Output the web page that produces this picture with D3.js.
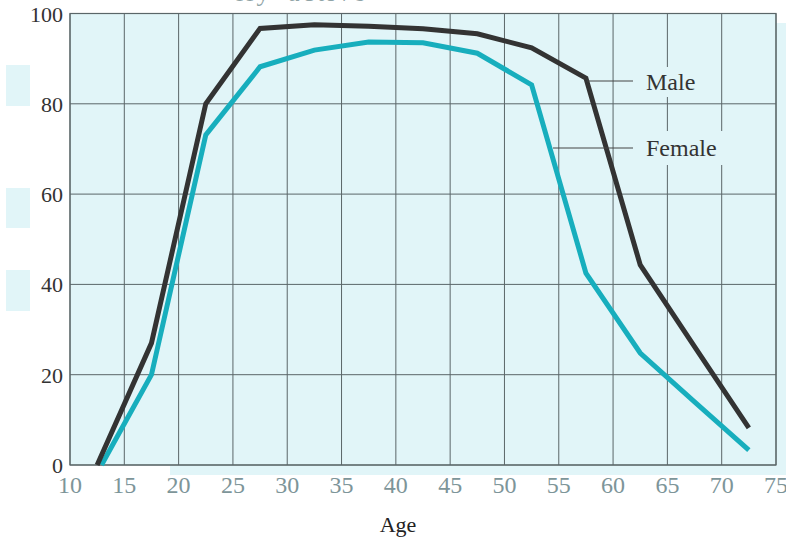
<!DOCTYPE html>
<html>
<head>
<meta charset="utf-8">
<script src="https://cdn.jsdelivr.net/npm/d3@7"></script>
<style>
  body { margin: 0; background: #fff; }
  svg { display: block; }
</style>
</head>
<body>
<svg id="chart" width="786" height="541"></svg>
<script>
// ---- data ----
const maleAges   = [12.5, 17.5, 22.5, 27.5, 32.5, 37.5, 42.5, 47.5, 52.5, 57.5, 62.5, 67.5, 72.5];
const maleValues = [0, 27, 80, 96.7, 97.5, 97.2, 96.6, 95.5, 92.4, 85.7, 44.3, 26.2, 8.2];
const femaleAges   = [12.9, 17.5, 22.5, 27.5, 32.5, 37.5, 42.5, 47.5, 52.5, 57.5, 62.5, 67.5, 72.5];
const femaleValues = [0, 20, 73.1, 88.2, 91.9, 93.7, 93.5, 91.2, 84.2, 42.5, 24.8, 14, 3.3];
const xTicks = [10, 15, 20, 25, 30, 35, 40, 45, 50, 55, 60, 65, 70, 75];
const yTicks = [0, 20, 40, 60, 80, 100];
const seriesNames = ["Male", "Female"];
const xTitle = "Age";
const titleFragment = "lly active";

// ---- layout ----
const FONT = "'Liberation Serif', 'Times New Roman', Times, 'DejaVu Serif', serif";
const svg = d3.select("#chart").attr("font-family", FONT);
const pL = 70, pR = 776, pT = 13.5, pB = 465;
const x = d3.scaleLinear().domain([10, 75]).range([pL, pR]);
const y = d3.scaleLinear().domain([0, 100]).range([pB, pT]);
const bg = "#e1f5f8";

// clipped title fragment at top
svg.append("text").attr("x", 236).attr("y", 0.5)
  .attr("font-size", 26).attr("letter-spacing", 3).attr("word-spacing", 6)
  .attr("fill", "#8fa3a6").text(titleFragment);

// left decorative rectangles
[[65, 106], [188, 228], [270, 311]].forEach(([a, b]) => {
  svg.append("rect").attr("x", 6).attr("y", a).attr("width", 24).attr("height", b - a).attr("fill", bg);
});

// background panels
svg.append("rect").attr("x", pL).attr("y", pT).attr("width", pR - pL).attr("height", pB - pT).attr("fill", bg);
svg.append("rect").attr("x", pR).attr("y", 23).attr("width", 786 - pR).attr("height", 475 - 23).attr("fill", bg);
svg.append("rect").attr("x", 170).attr("y", pB).attr("width", 786 - 170).attr("height", 10).attr("fill", bg);

// grid
const gridColor = "#5a6668";
const g = svg.append("g");
g.selectAll("line.v").data(xTicks).join("line").attr("class", "v")
  .attr("x1", d => x(d)).attr("x2", d => x(d)).attr("y1", pT).attr("y2", pB)
  .attr("stroke", gridColor).attr("stroke-width", 1);
g.selectAll("line.h").data(yTicks).join("line").attr("class", "h")
  .attr("x1", pL).attr("x2", pR).attr("y1", d => y(d)).attr("y2", d => y(d))
  .attr("stroke", gridColor).attr("stroke-width", 1);
svg.append("rect").attr("x", pL).attr("y", pT).attr("width", pR - pL).attr("height", pB - pT)
  .attr("fill", "none").attr("stroke", gridColor).attr("stroke-width", 1.2);

// label backgrounds (hide grid behind labels)
svg.append("rect").attr("x", 641).attr("y", 67).attr("width", 60).attr("height", 30).attr("fill", bg);
svg.append("rect").attr("x", 641).attr("y", 131).attr("width", 86).attr("height", 34).attr("fill", bg);

// y axis labels
svg.selectAll("text.yl").data(yTicks).join("text").attr("class", "yl")
  .attr("x", 63).attr("y", d => y(d) + 8)
  .attr("text-anchor", "end").attr("font-size", 22).attr("fill", "#333")
  .text(d => d);

// x axis labels
svg.selectAll("text.xl").data(xTicks).join("text").attr("class", "xl")
  .attr("x", d => x(d)).attr("y", 493)
  .attr("text-anchor", "middle").attr("font-size", 24).attr("fill", "#7d9599")
  .text(d => d);

svg.append("text").attr("x", 398).attr("y", 532).attr("text-anchor", "middle")
  .attr("font-size", 22).attr("fill", "#222").text(xTitle);

// lines
const line = d3.line().x(d => x(d[0])).y(d => y(d[1]));
const maleData = maleAges.map((a, i) => [a, maleValues[i]]);
const femaleData = femaleAges.map((a, i) => [a, femaleValues[i]]);
svg.append("path").datum(femaleData).attr("d", line)
  .attr("fill", "none").attr("stroke", "#17aebd").attr("stroke-width", 5).attr("stroke-linejoin", "miter");
svg.append("path").datum(maleData).attr("d", line)
  .attr("fill", "none").attr("stroke", "#333333").attr("stroke-width", 5).attr("stroke-linejoin", "miter");

// leader lines and labels
svg.append("line").attr("x1", 587).attr("x2", 633).attr("y1", 81).attr("y2", 81).attr("stroke", "#444").attr("stroke-width", 1);
svg.append("line").attr("x1", 553).attr("x2", 633).attr("y1", 148).attr("y2", 148).attr("stroke", "#444").attr("stroke-width", 1);
svg.append("text").attr("x", 646).attr("y", 90).attr("font-size", 24).attr("fill", "#333").text(seriesNames[0]);
svg.append("text").attr("x", 646).attr("y", 156).attr("font-size", 24).attr("fill", "#333").text(seriesNames[1]);
</script>
</body>
</html>
